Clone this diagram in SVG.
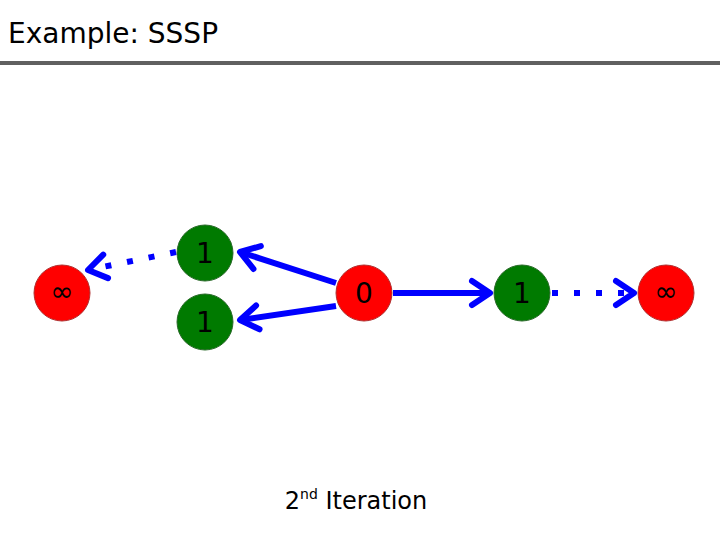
<svg xmlns="http://www.w3.org/2000/svg" width="720" height="540" viewBox="0 0 720 540">
<style>
.red{fill:#ff0000;stroke:#b03030;stroke-width:1}
.green{fill:#007a00;stroke:#2a6a2a;stroke-width:1}
.lbl{font-family:"DejaVu Sans",sans-serif;font-size:28px;fill:#000;text-anchor:middle;dominant-baseline:central}
.e{stroke:#0000ff;stroke-width:6;fill:none;marker-end:url(#ah)}
.d{stroke-dasharray:6 16}
</style>
<defs>
<marker id="ah" markerUnits="userSpaceOnUse" markerWidth="40" markerHeight="40" refX="22" refY="20" orient="auto" viewBox="0 0 40 40">
<path d="M4,8 L22,20 L4,32" fill="none" stroke="#0000ff" stroke-width="6" stroke-linecap="round" stroke-linejoin="round"/>
</marker>
</defs>
<rect width="720" height="540" fill="#fff"/>
<text x="8" y="43" font-family="DejaVu Sans,sans-serif" font-size="28" fill="#000">Example: SSSP</text>
<rect x="0" y="61" width="720" height="4" fill="#606060"/>
<g id="connectors">
<line class="e" x1="336" y1="283" x2="240" y2="252"/>
<line class="e" x1="336" y1="306" x2="240" y2="320"/>
<line class="e" x1="393" y1="293" x2="490" y2="293"/>
<line class="e d" x1="552" y1="293" x2="634" y2="293"/>
<line class="e d" x1="176" y1="252" x2="88" y2="270"/>
</g>
<g id="n_inf_left"><circle class="red" cx="62" cy="293" r="28"/><text class="lbl" x="62" y="291">∞</text></g>
<g id="n_1_top"><circle class="green" cx="205" cy="253" r="28"/><text class="lbl" x="205" y="253">1</text></g>
<g id="n_1_bot"><circle class="green" cx="205" cy="322" r="28"/><text class="lbl" x="205" y="322">1</text></g>
<g id="n_0"><circle class="red" cx="364" cy="293" r="28"/><text class="lbl" x="364" y="293">0</text></g>
<g id="n_1_right"><circle class="green" cx="522" cy="293" r="28"/><text class="lbl" x="522" y="293">1</text></g>
<g id="n_inf_right"><circle class="red" cx="666" cy="293" r="28"/><text class="lbl" x="666" y="291">∞</text></g>
<text x="356" y="509" font-family="DejaVu Sans,sans-serif" font-size="24" fill="#000" text-anchor="middle">2<tspan font-size="14" dy="-10">nd</tspan><tspan dy="10"> Iteration</tspan></text>
</svg>
